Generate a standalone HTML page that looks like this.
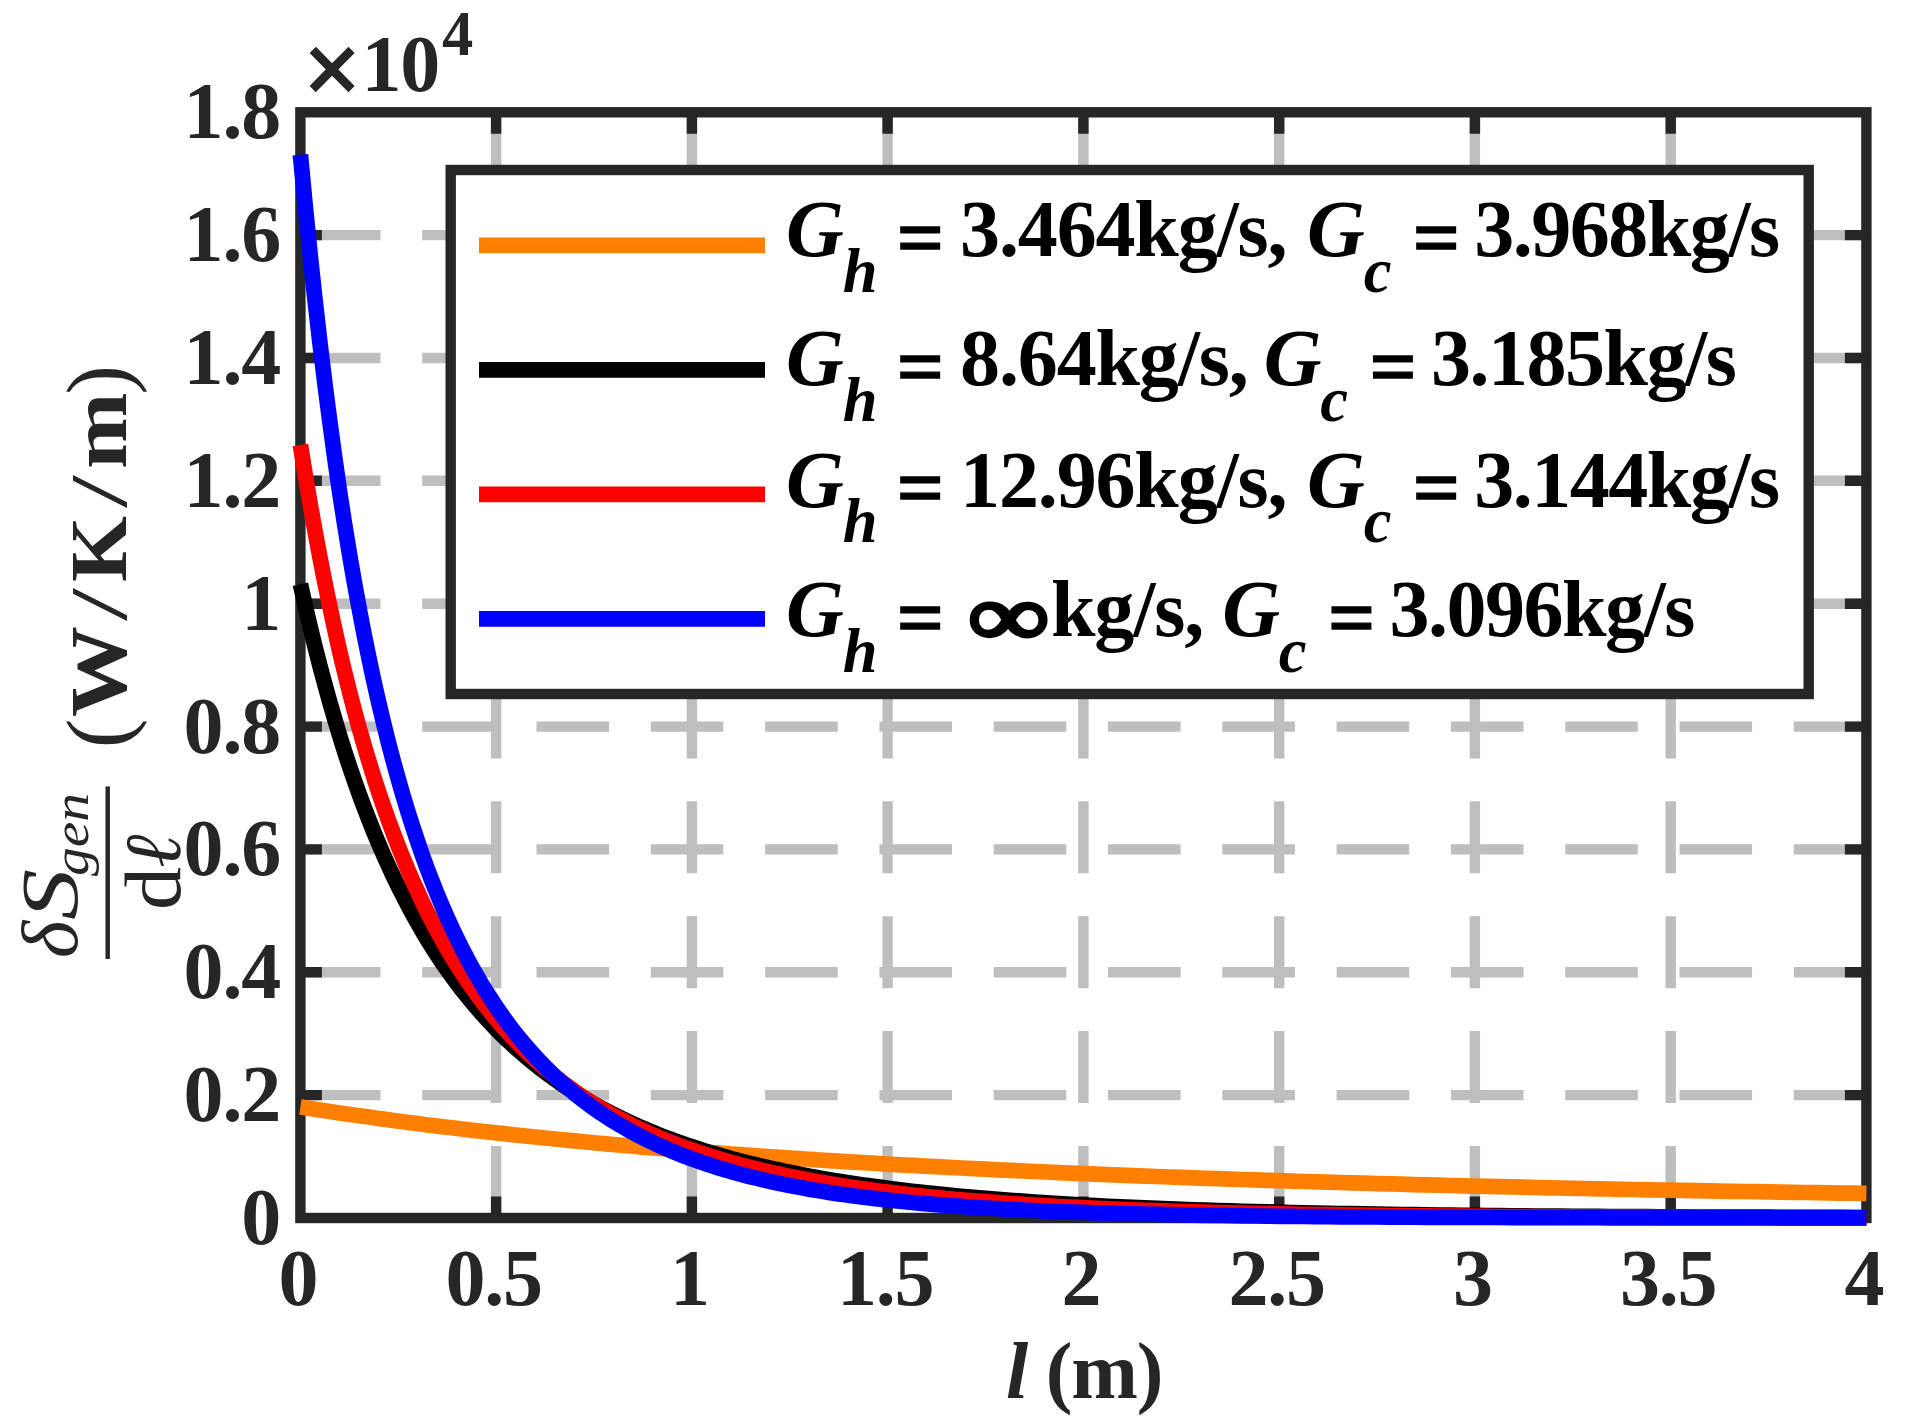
<!DOCTYPE html>
<html><head><meta charset="utf-8"><title>Entropy generation per unit length</title>
<style>
html,body{margin:0;padding:0;background:#fff;}
body{width:1917px;height:1425px;overflow:hidden;}
svg{display:block;}
text{font-family:"Liberation Serif",serif;}
.t{font-weight:bold;font-size:80px;fill:#262626;letter-spacing:-1.2px;}
.lg{font-weight:bold;font-size:80px;fill:#000;letter-spacing:-1.15px;}
.bi{font-style:italic;font-weight:bold;}
.sub{font-style:italic;font-weight:bold;font-size:62.5px;}
.mi{font-style:italic;font-weight:normal;fill:#262626;}
</style></head><body>
<svg width="1917" height="1425" viewBox="0 0 1917 1425">
<rect width="1917" height="1425" fill="#fff"/>

<g stroke="#bebebe" stroke-width="10.4" fill="none">
<path d="M496.1 1218.0 V112.3" stroke-dasharray="72 42.9"/>
<path d="M691.9 1218.0 V112.3" stroke-dasharray="72 42.9"/>
<path d="M887.6 1218.0 V112.3" stroke-dasharray="72 42.9"/>
<path d="M1083.4 1218.0 V112.3" stroke-dasharray="72 42.9"/>
<path d="M1279.2 1218.0 V112.3" stroke-dasharray="72 42.9"/>
<path d="M1474.9 1218.0 V112.3" stroke-dasharray="72 42.9"/>
<path d="M1670.7 1218.0 V112.3" stroke-dasharray="72 42.9"/>
<path d="M1866.4 1095.1 H300.4" stroke-dasharray="72.6 41.7"/>
<path d="M1866.4 972.3 H300.4" stroke-dasharray="72.6 41.7"/>
<path d="M1866.4 849.4 H300.4" stroke-dasharray="72.6 41.7"/>
<path d="M1866.4 726.6 H300.4" stroke-dasharray="72.6 41.7"/>
<path d="M1866.4 603.7 H300.4" stroke-dasharray="72.6 41.7"/>
<path d="M1866.4 480.8 H300.4" stroke-dasharray="72.6 41.7"/>
<path d="M1866.4 358.0 H300.4" stroke-dasharray="72.6 41.7"/>
<path d="M1866.4 235.1 H300.4" stroke-dasharray="72.6 41.7"/>
</g>
<g stroke="#262626" stroke-width="10.4" fill="none">
<rect x="300.4" y="112.3" width="1566.0" height="1105.7"/>
<path d="M496.1 1218.0 v-21.5 M496.1 112.3 v21.5 M691.9 1218.0 v-21.5 M691.9 112.3 v21.5 M887.6 1218.0 v-21.5 M887.6 112.3 v21.5 M1083.4 1218.0 v-21.5 M1083.4 112.3 v21.5 M1279.2 1218.0 v-21.5 M1279.2 112.3 v21.5 M1474.9 1218.0 v-21.5 M1474.9 112.3 v21.5 M1670.7 1218.0 v-21.5 M1670.7 112.3 v21.5 M300.4 1095.1 h21.5 M1866.4 1095.1 h-21.5 M300.4 972.3 h21.5 M1866.4 972.3 h-21.5 M300.4 849.4 h21.5 M1866.4 849.4 h-21.5 M300.4 726.6 h21.5 M1866.4 726.6 h-21.5 M300.4 603.7 h21.5 M1866.4 603.7 h-21.5 M300.4 480.8 h21.5 M1866.4 480.8 h-21.5 M300.4 358.0 h21.5 M1866.4 358.0 h-21.5 M300.4 235.1 h21.5 M1866.4 235.1 h-21.5 "/>
</g>
<g fill="none" stroke-width="15.7" stroke-linejoin="round">
<path d="M300.4 1107.0 L305.3 1107.7 L310.2 1108.5 L315.1 1109.3 L320.0 1110.0 L324.9 1110.7 L329.8 1111.5 L334.7 1112.2 L339.5 1112.9 L344.4 1113.7 L349.3 1114.4 L354.2 1115.1 L359.1 1115.8 L364.0 1116.4 L368.9 1117.1 L373.8 1117.8 L378.7 1118.5 L383.6 1119.1 L388.5 1119.8 L393.4 1120.5 L398.3 1121.1 L403.2 1121.7 L408.1 1122.4 L413.0 1123.0 L417.9 1123.6 L422.7 1124.2 L427.6 1124.9 L432.5 1125.5 L437.4 1126.1 L442.3 1126.7 L447.2 1127.3 L452.1 1127.8 L457.0 1128.4 L461.9 1129.0 L466.8 1129.6 L471.7 1130.1 L476.6 1130.7 L481.5 1131.2 L486.4 1131.8 L491.3 1132.3 L496.1 1132.9 L501.0 1133.4 L505.9 1133.9 L510.8 1134.5 L515.7 1135.0 L520.6 1135.5 L525.5 1136.0 L530.4 1136.5 L535.3 1137.0 L540.2 1137.5 L545.1 1138.0 L550.0 1138.5 L554.9 1139.0 L559.8 1139.5 L564.7 1140.0 L569.6 1140.4 L574.5 1140.9 L579.3 1141.4 L584.2 1141.8 L589.1 1142.3 L594.0 1142.7 L598.9 1143.2 L603.8 1143.6 L608.7 1144.1 L613.6 1144.5 L618.5 1145.0 L623.4 1145.4 L628.3 1145.8 L633.2 1146.2 L638.1 1146.7 L643.0 1147.1 L647.9 1147.5 L652.8 1147.9 L657.6 1148.3 L662.5 1148.7 L667.4 1149.1 L672.3 1149.5 L677.2 1149.9 L682.1 1150.3 L687.0 1150.7 L691.9 1151.0 L696.8 1151.4 L701.7 1151.8 L706.6 1152.2 L711.5 1152.6 L716.4 1152.9 L721.3 1153.3 L726.2 1153.6 L731.0 1154.0 L735.9 1154.4 L740.8 1154.7 L745.7 1155.1 L750.6 1155.4 L755.5 1155.8 L760.4 1156.1 L765.3 1156.4 L770.2 1156.8 L775.1 1157.1 L780.0 1157.4 L784.9 1157.8 L789.8 1158.1 L794.7 1158.4 L799.6 1158.7 L804.5 1159.0 L809.4 1159.4 L814.2 1159.7 L819.1 1160.0 L824.0 1160.3 L828.9 1160.6 L833.8 1160.9 L838.7 1161.2 L843.6 1161.5 L848.5 1161.8 L853.4 1162.1 L858.3 1162.4 L863.2 1162.7 L868.1 1163.0 L873.0 1163.2 L877.9 1163.5 L882.8 1163.8 L887.6 1164.1 L899.9 1164.8 L912.1 1165.4 L924.4 1166.1 L936.6 1166.7 L948.8 1167.4 L961.1 1168.0 L973.3 1168.6 L985.5 1169.2 L997.8 1169.8 L1010.0 1170.4 L1022.2 1170.9 L1034.5 1171.5 L1046.7 1172.0 L1058.9 1172.6 L1071.2 1173.1 L1083.4 1173.6 L1095.6 1174.1 L1107.9 1174.6 L1120.1 1175.1 L1132.3 1175.6 L1144.6 1176.1 L1156.8 1176.5 L1169.0 1177.0 L1181.3 1177.4 L1193.5 1177.9 L1205.7 1178.3 L1218.0 1178.7 L1230.2 1179.1 L1242.4 1179.5 L1254.7 1179.9 L1266.9 1180.3 L1279.2 1180.7 L1291.4 1181.1 L1303.6 1181.5 L1315.9 1181.8 L1328.1 1182.2 L1340.3 1182.5 L1352.6 1182.9 L1364.8 1183.2 L1377.0 1183.6 L1389.3 1183.9 L1401.5 1184.2 L1413.7 1184.6 L1426.0 1184.9 L1438.2 1185.2 L1450.4 1185.5 L1462.7 1185.8 L1474.9 1186.1 L1487.1 1186.4 L1499.4 1186.7 L1511.6 1186.9 L1523.8 1187.2 L1536.1 1187.5 L1548.3 1187.8 L1560.5 1188.0 L1572.8 1188.3 L1585.0 1188.5 L1597.2 1188.8 L1609.5 1189.0 L1621.7 1189.3 L1633.9 1189.5 L1646.2 1189.8 L1658.4 1190.0 L1670.7 1190.2 L1682.9 1190.4 L1695.1 1190.7 L1707.4 1190.9 L1719.6 1191.1 L1731.8 1191.3 L1744.1 1191.5 L1756.3 1191.7 L1768.5 1191.9 L1780.8 1192.1 L1793.0 1192.3 L1805.2 1192.5 L1817.5 1192.7 L1829.7 1192.9 L1841.9 1193.1 L1854.2 1193.2 L1866.4 1193.4" stroke="#ff8000"/>
<path d="M300.4 584.2 L305.3 606.1 L310.2 627.0 L315.1 647.0 L320.0 666.2 L324.9 684.5 L329.8 702.2 L334.7 719.0 L339.5 735.2 L344.4 750.8 L349.3 765.7 L354.2 780.0 L359.1 793.8 L364.0 807.0 L368.9 819.7 L373.8 832.0 L378.7 843.7 L383.6 855.0 L388.5 865.9 L393.4 876.4 L398.3 886.6 L403.2 896.3 L408.1 905.7 L413.0 914.8 L417.9 923.5 L422.7 931.9 L427.6 940.1 L432.5 947.9 L437.4 955.5 L442.3 962.8 L447.2 969.9 L452.1 976.7 L457.0 983.4 L461.9 989.8 L466.8 995.9 L471.7 1001.9 L476.6 1007.7 L481.5 1013.3 L486.4 1018.7 L491.3 1024.0 L496.1 1029.1 L501.0 1034.0 L505.9 1038.8 L510.8 1043.4 L515.7 1047.9 L520.6 1052.2 L525.5 1056.4 L530.4 1060.5 L535.3 1064.5 L540.2 1068.4 L545.1 1072.1 L550.0 1075.7 L554.9 1079.2 L559.8 1082.7 L564.7 1086.0 L569.6 1089.2 L574.5 1092.4 L579.3 1095.4 L584.2 1098.4 L589.1 1101.3 L594.0 1104.1 L598.9 1106.8 L603.8 1109.4 L608.7 1112.0 L613.6 1114.5 L618.5 1116.9 L623.4 1119.3 L628.3 1121.6 L633.2 1123.9 L638.1 1126.1 L643.0 1128.2 L647.9 1130.3 L652.8 1132.3 L657.6 1134.3 L662.5 1136.2 L667.4 1138.0 L672.3 1139.9 L677.2 1141.6 L682.1 1143.4 L687.0 1145.1 L691.9 1146.7 L696.8 1148.3 L701.7 1149.9 L706.6 1151.4 L711.5 1152.9 L716.4 1154.3 L721.3 1155.7 L726.2 1157.1 L731.0 1158.5 L735.9 1159.8 L740.8 1161.0 L745.7 1162.3 L750.6 1163.5 L755.5 1164.7 L760.4 1165.9 L765.3 1167.0 L770.2 1168.1 L775.1 1169.2 L780.0 1170.2 L784.9 1171.3 L789.8 1172.3 L794.7 1173.3 L799.6 1174.2 L804.5 1175.2 L809.4 1176.1 L814.2 1177.0 L819.1 1177.9 L824.0 1178.7 L828.9 1179.6 L833.8 1180.4 L838.7 1181.2 L843.6 1181.9 L848.5 1182.7 L853.4 1183.5 L858.3 1184.2 L863.2 1184.9 L868.1 1185.6 L873.0 1186.3 L877.9 1186.9 L882.8 1187.6 L887.6 1188.2 L899.9 1189.8 L912.1 1191.2 L924.4 1192.6 L936.6 1193.9 L948.8 1195.1 L961.1 1196.3 L973.3 1197.4 L985.5 1198.4 L997.8 1199.4 L1010.0 1200.3 L1022.2 1201.2 L1034.5 1202.1 L1046.7 1202.9 L1058.9 1203.6 L1071.2 1204.3 L1083.4 1205.0 L1095.6 1205.7 L1107.9 1206.3 L1120.1 1206.9 L1132.3 1207.4 L1144.6 1207.9 L1156.8 1208.4 L1169.0 1208.9 L1181.3 1209.4 L1193.5 1209.8 L1205.7 1210.2 L1218.0 1210.6 L1230.2 1210.9 L1242.4 1211.3 L1254.7 1211.6 L1266.9 1211.9 L1279.2 1212.2 L1291.4 1212.5 L1303.6 1212.8 L1315.9 1213.0 L1328.1 1213.3 L1340.3 1213.5 L1352.6 1213.7 L1364.8 1213.9 L1377.0 1214.1 L1389.3 1214.3 L1401.5 1214.5 L1413.7 1214.7 L1426.0 1214.8 L1438.2 1215.0 L1450.4 1215.1 L1462.7 1215.3 L1474.9 1215.4 L1487.1 1215.5 L1499.4 1215.7 L1511.6 1215.8 L1523.8 1215.9 L1536.1 1216.0 L1548.3 1216.1 L1560.5 1216.2 L1572.8 1216.3 L1585.0 1216.4 L1597.2 1216.4 L1609.5 1216.5 L1621.7 1216.6 L1633.9 1216.7 L1646.2 1216.7 L1658.4 1216.8 L1670.7 1216.8 L1682.9 1216.9 L1695.1 1217.0 L1707.4 1217.0 L1719.6 1217.1 L1731.8 1217.1 L1744.1 1217.1 L1756.3 1217.2 L1768.5 1217.2 L1780.8 1217.3 L1793.0 1217.3 L1805.2 1217.3 L1817.5 1217.4 L1829.7 1217.4 L1841.9 1217.4 L1854.2 1217.5 L1866.4 1217.5" stroke="#000"/>
<path d="M300.4 445.0 L305.3 475.3 L310.2 504.2 L315.1 531.7 L320.0 557.8 L324.9 582.7 L329.8 606.4 L334.7 629.1 L339.5 650.7 L344.4 671.3 L349.3 690.9 L354.2 709.7 L359.1 727.7 L364.0 744.9 L368.9 761.3 L373.8 777.1 L378.7 792.1 L383.6 806.6 L388.5 820.4 L393.4 833.6 L398.3 846.4 L403.2 858.5 L408.1 870.3 L413.0 881.5 L417.9 892.3 L422.7 902.7 L427.6 912.7 L432.5 922.2 L437.4 931.5 L442.3 940.3 L447.2 948.9 L452.1 957.1 L457.0 965.0 L461.9 972.7 L466.8 980.0 L471.7 987.1 L476.6 994.0 L481.5 1000.6 L486.4 1006.9 L491.3 1013.1 L496.1 1019.0 L501.0 1024.8 L505.9 1030.3 L510.8 1035.6 L515.7 1040.8 L520.6 1045.8 L525.5 1050.6 L530.4 1055.3 L535.3 1059.8 L540.2 1064.2 L545.1 1068.4 L550.0 1072.5 L554.9 1076.5 L559.8 1080.3 L564.7 1084.1 L569.6 1087.7 L574.5 1091.2 L579.3 1094.6 L584.2 1097.8 L589.1 1101.0 L594.0 1104.1 L598.9 1107.1 L603.8 1110.0 L608.7 1112.8 L613.6 1115.6 L618.5 1118.2 L623.4 1120.8 L628.3 1123.3 L633.2 1125.7 L638.1 1128.1 L643.0 1130.4 L647.9 1132.6 L652.8 1134.8 L657.6 1136.9 L662.5 1138.9 L667.4 1140.9 L672.3 1142.8 L677.2 1144.7 L682.1 1146.5 L687.0 1148.3 L691.9 1150.0 L696.8 1151.7 L701.7 1153.4 L706.6 1155.0 L711.5 1156.5 L716.4 1158.0 L721.3 1159.5 L726.2 1160.9 L731.0 1162.3 L735.9 1163.6 L740.8 1165.0 L745.7 1166.2 L750.6 1167.5 L755.5 1168.7 L760.4 1169.9 L765.3 1171.1 L770.2 1172.2 L775.1 1173.3 L780.0 1174.3 L784.9 1175.4 L789.8 1176.4 L794.7 1177.4 L799.6 1178.3 L804.5 1179.3 L809.4 1180.2 L814.2 1181.1 L819.1 1182.0 L824.0 1182.8 L828.9 1183.6 L833.8 1184.4 L838.7 1185.2 L843.6 1186.0 L848.5 1186.8 L853.4 1187.5 L858.3 1188.2 L863.2 1188.9 L868.1 1189.6 L873.0 1190.2 L877.9 1190.9 L882.8 1191.5 L887.6 1192.1 L899.9 1193.6 L912.1 1195.0 L924.4 1196.3 L936.6 1197.5 L948.8 1198.7 L961.1 1199.7 L973.3 1200.8 L985.5 1201.7 L997.8 1202.6 L1010.0 1203.5 L1022.2 1204.3 L1034.5 1205.1 L1046.7 1205.8 L1058.9 1206.5 L1071.2 1207.1 L1083.4 1207.7 L1095.6 1208.3 L1107.9 1208.8 L1120.1 1209.3 L1132.3 1209.8 L1144.6 1210.3 L1156.8 1210.7 L1169.0 1211.1 L1181.3 1211.5 L1193.5 1211.8 L1205.7 1212.2 L1218.0 1212.5 L1230.2 1212.8 L1242.4 1213.1 L1254.7 1213.3 L1266.9 1213.6 L1279.2 1213.8 L1291.4 1214.1 L1303.6 1214.3 L1315.9 1214.5 L1328.1 1214.7 L1340.3 1214.9 L1352.6 1215.0 L1364.8 1215.2 L1377.0 1215.4 L1389.3 1215.5 L1401.5 1215.6 L1413.7 1215.8 L1426.0 1215.9 L1438.2 1216.0 L1450.4 1216.1 L1462.7 1216.2 L1474.9 1216.3 L1487.1 1216.4 L1499.4 1216.5 L1511.6 1216.6 L1523.8 1216.7 L1536.1 1216.7 L1548.3 1216.8 L1560.5 1216.9 L1572.8 1216.9 L1585.0 1217.0 L1597.2 1217.0 L1609.5 1217.1 L1621.7 1217.1 L1633.9 1217.2 L1646.2 1217.2 L1658.4 1217.3 L1670.7 1217.3 L1682.9 1217.3 L1695.1 1217.4 L1707.4 1217.4 L1719.6 1217.5 L1731.8 1217.5 L1744.1 1217.5 L1756.3 1217.5 L1768.5 1217.6 L1780.8 1217.6 L1793.0 1217.6 L1805.2 1217.6 L1817.5 1217.6 L1829.7 1217.7 L1841.9 1217.7 L1854.2 1217.7 L1866.4 1217.7" stroke="#ff0000"/>
<path d="M300.4 154.8 L305.3 206.6 L310.2 255.1 L315.1 300.6 L320.0 343.5 L324.9 383.7 L329.8 421.6 L334.7 457.4 L339.5 491.1 L344.4 522.9 L349.3 552.9 L354.2 581.3 L359.1 608.2 L364.0 633.7 L368.9 657.9 L373.8 680.8 L378.7 702.5 L383.6 723.1 L388.5 742.8 L393.4 761.4 L398.3 779.2 L403.2 796.1 L408.1 812.2 L413.0 827.6 L417.9 842.3 L422.7 856.2 L427.6 869.6 L432.5 882.4 L437.4 894.6 L442.3 906.3 L447.2 917.5 L452.1 928.2 L457.0 938.4 L461.9 948.2 L466.8 957.7 L471.7 966.7 L476.6 975.4 L481.5 983.7 L486.4 991.7 L491.3 999.3 L496.1 1006.7 L501.0 1013.8 L505.9 1020.6 L510.8 1027.2 L515.7 1033.5 L520.6 1039.6 L525.5 1045.4 L530.4 1051.0 L535.3 1056.5 L540.2 1061.7 L545.1 1066.7 L550.0 1071.6 L554.9 1076.3 L559.8 1080.8 L564.7 1085.1 L569.6 1089.3 L574.5 1093.4 L579.3 1097.3 L584.2 1101.1 L589.1 1104.8 L594.0 1108.3 L598.9 1111.7 L603.8 1115.0 L608.7 1118.2 L613.6 1121.3 L618.5 1124.2 L623.4 1127.1 L628.3 1129.9 L633.2 1132.6 L638.1 1135.2 L643.0 1137.7 L647.9 1140.2 L652.8 1142.5 L657.6 1144.8 L662.5 1147.0 L667.4 1149.1 L672.3 1151.2 L677.2 1153.2 L682.1 1155.2 L687.0 1157.1 L691.9 1158.9 L696.8 1160.6 L701.7 1162.4 L706.6 1164.0 L711.5 1165.6 L716.4 1167.2 L721.3 1168.7 L726.2 1170.1 L731.0 1171.6 L735.9 1172.9 L740.8 1174.3 L745.7 1175.6 L750.6 1176.8 L755.5 1178.0 L760.4 1179.2 L765.3 1180.3 L770.2 1181.5 L775.1 1182.5 L780.0 1183.6 L784.9 1184.6 L789.8 1185.6 L794.7 1186.5 L799.6 1187.4 L804.5 1188.3 L809.4 1189.2 L814.2 1190.0 L819.1 1190.8 L824.0 1191.6 L828.9 1192.4 L833.8 1193.2 L838.7 1193.9 L843.6 1194.6 L848.5 1195.3 L853.4 1195.9 L858.3 1196.6 L863.2 1197.2 L868.1 1197.8 L873.0 1198.4 L877.9 1198.9 L882.8 1199.5 L887.6 1200.0 L899.9 1201.3 L912.1 1202.5 L924.4 1203.6 L936.6 1204.6 L948.8 1205.6 L961.1 1206.4 L973.3 1207.3 L985.5 1208.0 L997.8 1208.7 L1010.0 1209.4 L1022.2 1210.0 L1034.5 1210.5 L1046.7 1211.1 L1058.9 1211.6 L1071.2 1212.0 L1083.4 1212.4 L1095.6 1212.8 L1107.9 1213.2 L1120.1 1213.5 L1132.3 1213.8 L1144.6 1214.1 L1156.8 1214.4 L1169.0 1214.7 L1181.3 1214.9 L1193.5 1215.1 L1205.7 1215.3 L1218.0 1215.5 L1230.2 1215.7 L1242.4 1215.8 L1254.7 1216.0 L1266.9 1216.1 L1279.2 1216.3 L1291.4 1216.4 L1303.6 1216.5 L1315.9 1216.6 L1328.1 1216.7 L1340.3 1216.8 L1352.6 1216.9 L1364.8 1217.0 L1377.0 1217.0 L1389.3 1217.1 L1401.5 1217.2 L1413.7 1217.2 L1426.0 1217.3 L1438.2 1217.3 L1450.4 1217.4 L1462.7 1217.4 L1474.9 1217.5 L1487.1 1217.5 L1499.4 1217.5 L1511.6 1217.6 L1523.8 1217.6 L1536.1 1217.6 L1548.3 1217.7 L1560.5 1217.7 L1572.8 1217.7 L1585.0 1217.7 L1597.2 1217.7 L1609.5 1217.8 L1621.7 1217.8 L1633.9 1217.8 L1646.2 1217.8 L1658.4 1217.8 L1670.7 1217.8 L1682.9 1217.8 L1695.1 1217.9 L1707.4 1217.9 L1719.6 1217.9 L1731.8 1217.9 L1744.1 1217.9 L1756.3 1217.9 L1768.5 1217.9 L1780.8 1217.9 L1793.0 1217.9 L1805.2 1217.9 L1817.5 1217.9 L1829.7 1217.9 L1841.9 1217.9 L1854.2 1217.9 L1866.4 1217.9" stroke="#0000ff"/>
</g>
<g class="t" text-anchor="end">
<text x="280" y="1244.0">0</text>
<text x="280" y="1121.1">0.2</text>
<text x="280" y="998.3">0.4</text>
<text x="280" y="875.4">0.6</text>
<text x="280" y="752.6">0.8</text>
<text x="280" y="629.7">1</text>
<text x="280" y="506.8">1.2</text>
<text x="280" y="384.0">1.4</text>
<text x="280" y="261.1">1.6</text>
<text x="280" y="138.3">1.8</text>
</g>
<g class="t" text-anchor="middle">
<text x="297.9" y="1305">0</text>
<text x="493.6" y="1305">0.5</text>
<text x="689.4" y="1305">1</text>
<text x="885.1" y="1305">1.5</text>
<text x="1080.9" y="1305">2</text>
<text x="1276.7" y="1305">2.5</text>
<text x="1472.4" y="1305">3</text>
<text x="1668.2" y="1305">3.5</text>
<text x="1863.9" y="1305">4</text>
</g>
<text class="t" x="303" y="103.5"><tspan style="font-size:103px;stroke:#262626;stroke-width:1.5px">×</tspan><tspan dy="-12.8" dx="1">10</tspan></text>
<text class="t" x="442" y="55" style="font-size:62.5px">4</text>
<text class="t" x="1084" y="1398" text-anchor="middle"><tspan class="bi">l</tspan> (m)</text>
<g transform="translate(0,1425) rotate(-90)" fill="#262626">
<rect x="466" y="105.5" width="172.6" height="4.4"/>
<text class="mi" style="font-size:80px" x="467" y="76.6">δ</text>
<text class="mi" style="font-size:80px" x="505" y="76.6" textLength="51" lengthAdjust="spacingAndGlyphs">S</text>
<text class="mi" style="font-size:51px" x="549" y="87.5" textLength="83" lengthAdjust="spacingAndGlyphs">gen</text>
<text style="font-size:80px" x="515" y="179.8" textLength="43" lengthAdjust="spacingAndGlyphs">d</text>
<text class="mi" style="font-size:80px" x="557" y="179.8">ℓ</text>
<text style="font-size:88px" x="677" y="127.5">(</text>
<text style="font-size:80px;font-weight:bold" x="708" y="126" textLength="91" lengthAdjust="spacingAndGlyphs">W</text>
<text style="font-size:80px" x="804" y="126" textLength="33" lengthAdjust="spacingAndGlyphs">/</text>
<text style="font-size:80px;font-weight:bold" x="843" y="126" textLength="66" lengthAdjust="spacingAndGlyphs">K</text>
<text style="font-size:80px" x="917" y="126" textLength="33" lengthAdjust="spacingAndGlyphs">/</text>
<text style="font-size:80px;font-weight:bold" x="956" y="126" textLength="76.5" lengthAdjust="spacingAndGlyphs">m</text>
<text style="font-size:88px" x="1030.5" y="127.5">)</text>
</g>
<rect x="450.7" y="170" width="1358" height="524" fill="#fff" stroke="#262626" stroke-width="10.4"/>
<path d="M479 245.4 H765" stroke="#ff8000" stroke-width="15.7"/>
<text class="lg" x="786" y="256.3"><tspan class="bi">G</tspan><tspan class="sub" dy="35.3">h</tspan><tspan style="font-size:83px;stroke:#000;stroke-width:1.4px" dy="-27" dx="20.5">=</tspan><tspan dy="-8.3" dx="17.2">3.464kg/s, </tspan><tspan class="bi" x="1307">G</tspan><tspan class="sub" dy="35.3">c</tspan><tspan style="font-size:83px;stroke:#000;stroke-width:1.4px" dy="-27" dx="22.5">=</tspan><tspan dy="-8.3" dx="15.4" style="letter-spacing:-1.5px">3.968kg/s</tspan></text>
<path d="M479 369.9 H765" stroke="#000" stroke-width="15.7"/>
<text class="lg" x="786" y="385.2"><tspan class="bi">G</tspan><tspan class="sub" dy="35.3">h</tspan><tspan style="font-size:83px;stroke:#000;stroke-width:1.4px" dy="-27" dx="20.5">=</tspan><tspan dy="-8.3" dx="17.2">8.64kg/s, </tspan><tspan class="bi" x="1263.7">G</tspan><tspan class="sub" dy="35.3">c</tspan><tspan style="font-size:83px;stroke:#000;stroke-width:1.4px" dy="-27" dx="22.5">=</tspan><tspan dy="-8.3" dx="15.4" style="letter-spacing:-1.5px">3.185kg/s</tspan></text>
<path d="M479 494.4 H765" stroke="#ff0000" stroke-width="15.7"/>
<text class="lg" x="786" y="507.0"><tspan class="bi">G</tspan><tspan class="sub" dy="35.3">h</tspan><tspan style="font-size:83px;stroke:#000;stroke-width:1.4px" dy="-27" dx="20.5">=</tspan><tspan dy="-8.3" dx="17.2">12.96kg/s, </tspan><tspan class="bi" x="1307">G</tspan><tspan class="sub" dy="35.3">c</tspan><tspan style="font-size:83px;stroke:#000;stroke-width:1.4px" dy="-27" dx="22.5">=</tspan><tspan dy="-8.3" dx="15.4" style="letter-spacing:-1.5px">3.144kg/s</tspan></text>
<path d="M479 618.9 H765" stroke="#0000ff" stroke-width="15.7"/>
<text class="lg" x="786" y="636.3"><tspan class="bi">G</tspan><tspan class="sub" dy="35.3">h</tspan><tspan style="font-size:83px;stroke:#000;stroke-width:1.4px" dy="-27" dx="20.5">=</tspan></text>
<text class="lg" transform="translate(969,644.6) scale(1.28,1)" style="font-size:86.6px;stroke:#000;stroke-width:4px;stroke-linejoin:round">∞</text>
<text class="lg" x="1051" y="636.3">kg/s, <tspan class="bi" x="1222.2">G</tspan><tspan class="sub" dy="35.3">c</tspan><tspan style="font-size:83px;stroke:#000;stroke-width:1.4px" dy="-27" dx="22.5">=</tspan><tspan dy="-8.3" dx="15.4" style="letter-spacing:-1.5px">3.096kg/s</tspan></text>
</svg></body></html>
